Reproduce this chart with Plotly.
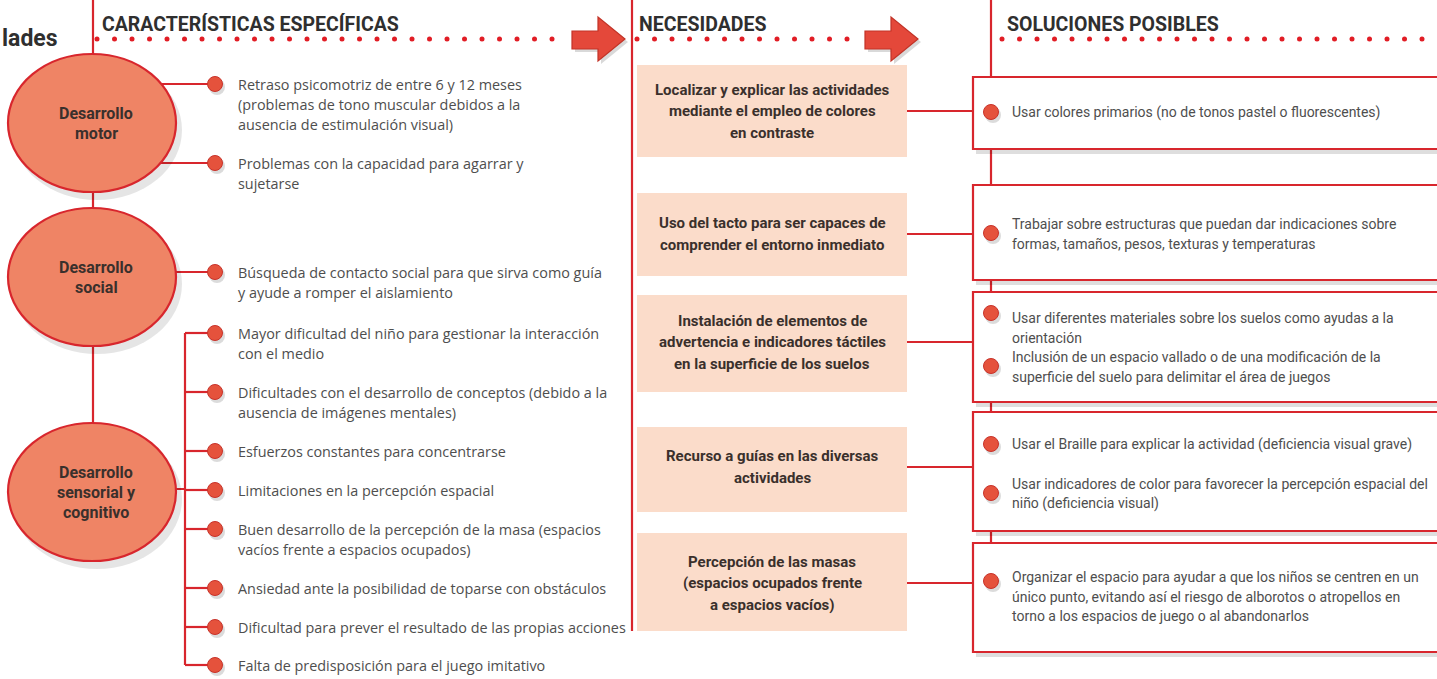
import numpy as np
import plotly.graph_objects as go

W, H = 1437, 679

# ---------------- data (texts) ----------------
header_cut = "lades"
headers = ["CARACTERÍSTICAS ESPECÍFICAS", "NECESIDADES", "SOLUCIONES POSIBLES"]
groups = ["Desarrollo\nmotor", "Desarrollo\nsocial", "Desarrollo\nsensorial y\ncognitivo"]
characteristics = [
    "Retraso psicomotriz de entre 6 y 12 meses\n(problemas de tono muscular debidos a la\nausencia de estimulación visual)",
    "Problemas con la capacidad para agarrar y\nsujetarse",
    "Búsqueda de contacto social para que sirva como guía\ny ayude a romper el aislamiento",
    "Mayor dificultad del niño para gestionar la interacción\ncon el medio",
    "Dificultades con el desarrollo de conceptos (debido a la\nausencia de imágenes mentales)",
    "Esfuerzos constantes para concentrarse",
    "Limitaciones en la percepción espacial",
    "Buen desarrollo de la percepción de la masa (espacios\nvacíos frente a espacios ocupados)",
    "Ansiedad ante la posibilidad de toparse con obstáculos",
    "Dificultad para prever el resultado de las propias acciones",
    "Falta de predisposición para el juego imitativo",
]
char_group = [0, 0, 1, 2, 2, 2, 2, 2, 2, 2, 2]
needs = [
    "Localizar y explicar las actividades\nmediante el empleo de colores\nen contraste",
    "Uso del tacto para ser capaces de\ncomprender el entorno inmediato",
    "Instalación de elementos de\nadvertencia e indicadores táctiles\nen la superficie de los suelos",
    "Recurso a guías en las diversas\nactividades",
    "Percepción de las masas\n(espacios ocupados frente\na espacios vacíos)",
]
solutions = [
    ["Usar colores primarios (no de tonos pastel o fluorescentes)"],
    ["Trabajar sobre estructuras que puedan dar indicaciones sobre\nformas, tamaños, pesos, texturas y temperaturas"],
    ["Usar diferentes materiales sobre los suelos como ayudas a la\norientación",
     "Inclusión de un espacio vallado o de una modificación de la\nsuperficie del suelo para delimitar el área de juegos"],
    ["Usar el Braille para explicar la actividad (deficiencia visual grave)",
     "Usar indicadores de color para favorecer la percepción espacial del\nniño (deficiencia visual)"],
    ["Organizar el espacio para ayudar a que los niños se centren en un\núnico punto, evitando así el riesgo de alborotos o atropellos en\ntorno a los espacios de juego o al abandonarlos"],
]

# ---------------- layout positions ----------------
group_cx, group_rx, group_ry = 92, 84, 69
group_cy = [123, 277, 492]
char_dot_x, char_text_x = 215, 236
char_y = [84, 163, 272, 333, 392, 451, 490, 529, 588, 627, 665]
bracket_x = 185
need_x0, need_x1 = 637, 907
need_box = [(65, 157), (193, 276), (295, 392), (427, 512), (533, 631)]
need_link_y = [111, 234, 342, 467, 583]
sol_x0, sol_x1 = 973, 1450
sol_box = [(77, 149), (185, 280), (292, 402), (412, 531), (543, 652)]
sol_dot_x, sol_text_x = 991, 1010
sol_dot_y = [[112], [233], [313, 366], [444, 493], [581]]
sol_text_y = [[112], [224], [318, 357], [444, 484], [577]]
header_x = [100, 637, 1005]
header_y = 24
dots_y = 39
dot_rows = [(97, 560), (637, 860), (1002, 1437)]
arrows_x = [572, 865]

RED = "#d8262d"
LINE_W = 2.2
SALMON = "#ef8465"
PEACH = "#fbdcca"
DOT = "#e5523c"
GRAY_TXT = "#4e4e4e"
DARK_TXT = "#3a302c"
NARROW = "Roboto, Liberation Sans, sans-serif"
ROUND = "Open Sans, Lato, sans-serif"

shapes = []
annotations = []


def line(x0, y0, x1, y1, color=RED, w=LINE_W):
    shapes.append(dict(type="line", x0=x0, y0=y0, x1=x1, y1=y1, xref="x", yref="y",
                       line=dict(color=color, width=w), layer="below"))


def text(x, y, s, size, color, family, xanchor="left", bold=False):
    if bold:
        s = "<b>" + s + "</b>"
    annotations.append(dict(x=x, y=y, xref="x", yref="y", text=s, showarrow=False,
                            xanchor=xanchor, yanchor="middle",
                            font=dict(size=size, color=color, family=family)))


# ---- column separators ----
line(93, 0, 93, group_cy[2])
line(632, 0, 632, 631)
line(sol_dot_x, 0, sol_dot_x, sol_box[-1][0])

# ---- left: connectors from groups to characteristic dots ----
for gi, cy in enumerate(char_y):
    g = char_group[gi]
    if g == 2:
        line(bracket_x, cy, char_dot_x, cy)
    else:
        line(group_cx, cy, char_dot_x, cy)
line(group_cx, group_cy[2] - 3, bracket_x, group_cy[2] - 3)
sens = [y for y, g in zip(char_y, char_group) if g == 2]
line(bracket_x, min(sens), bracket_x, max(sens))

# ---- group ellipses (shadow + body) ----
for cy in group_cy:
    shapes.append(dict(type="circle", xref="x", yref="y",
                       x0=group_cx - group_rx + 4, x1=group_cx + group_rx + 6,
                       y0=cy - group_ry + 6, y1=cy + group_ry + 8,
                       fillcolor="rgba(0,0,0,0.10)", line=dict(width=0), layer="below"))
    shapes.append(dict(type="circle", xref="x", yref="y",
                       x0=group_cx - group_rx, x1=group_cx + group_rx,
                       y0=cy - group_ry, y1=cy + group_ry,
                       fillcolor=SALMON, line=dict(color=RED, width=2.2), layer="below"))

# ---- needs boxes ----
for (y0, y1), ly in zip(need_box, need_link_y):
    shapes.append(dict(type="rect", xref="x", yref="y", x0=need_x0, x1=need_x1, y0=y0, y1=y1,
                       fillcolor=PEACH, line=dict(width=0), layer="below"))
    line(need_x1, ly, sol_x0, ly)

# ---- solution boxes ----
for (y0, y1) in sol_box:
    shapes.append(dict(type="rect", xref="x", yref="y", x0=sol_x0 + 3, x1=sol_x1, y0=y0 + 4, y1=y1 + 5,
                       fillcolor="rgba(0,0,0,0.13)", line=dict(width=0), layer="below"))
    shapes.append(dict(type="rect", xref="x", yref="y", x0=sol_x0, x1=sol_x1, y0=y0, y1=y1,
                       fillcolor="white", line=dict(color=RED, width=2.2), layer="below"))

# ---- arrows ----
for ax in arrows_x:
    path = (f"M {ax} {dots_y-8} L {ax+26} {dots_y-8} L {ax+26} {dots_y-22} "
            f"L {ax+53} {dots_y} L {ax+26} {dots_y+22} L {ax+26} {dots_y+10} L {ax} {dots_y+10} Z")
    shapes.append(dict(type="path", xref="x", yref="y",
                       path=(f"M {ax+3} {dots_y-5} L {ax+29} {dots_y-5} L {ax+29} {dots_y-19} "
                             f"L {ax+56} {dots_y+3} L {ax+29} {dots_y+25} L {ax+29} {dots_y+13} L {ax+3} {dots_y+13} Z"),
                       fillcolor="rgba(0,0,0,0.15)", line=dict(width=0), layer="below"))
    shapes.append(dict(type="path", xref="x", yref="y", path=path,
                       fillcolor="#e4483a", line=dict(color="#c23327", width=1.2), layer="below"))

fig = go.Figure()

# ---- header dotted rows ----
hx = np.concatenate([np.arange(a, b, 17.5) for a, b in dot_rows])
fig.add_trace(go.Scatter(x=hx, y=[dots_y] * len(hx), mode="markers",
                         marker=dict(size=5, color="#e11d25"), hoverinfo="skip"))

# ---- characteristic dots ----
fig.add_trace(go.Scatter(x=[char_dot_x + 2] * len(char_y), y=[y + 3 for y in char_y], mode="markers",
                         marker=dict(size=16, color="rgba(0,0,0,0.14)"), hoverinfo="skip"))
fig.add_trace(go.Scatter(x=[char_dot_x] * len(char_y), y=char_y, mode="markers",
                         marker=dict(size=15, color=DOT, line=dict(color="#c8322a", width=1)),
                         hoverinfo="skip"))

# ---- solution dots ----
sx, sy = [], []
for ys in sol_dot_y:
    for y in ys:
        sx.append(sol_dot_x)
        sy.append(y)
fig.add_trace(go.Scatter(x=[v + 2 for v in sx], y=[v + 3 for v in sy], mode="markers",
                         marker=dict(size=16, color="rgba(0,0,0,0.14)"), hoverinfo="skip"))
fig.add_trace(go.Scatter(x=sx, y=sy, mode="markers",
                         marker=dict(size=15, color=DOT, line=dict(color="#c8322a", width=1)),
                         hoverinfo="skip"))

# ---- texts ----
text(0, 38, header_cut, 23, "#2f2f2f", "Roboto, Open Sans, sans-serif", bold=True)
for hxp, h in zip(header_x, headers):
    text(hxp, header_y, h, 19.5, "#2f2f2f", NARROW, bold=True)

for g, cy in zip(groups, group_cy):
    lines = g.split("\n")
    n = len(lines)
    for i, ln in enumerate(lines):
        text(group_cx + 4, cy + (i - (n - 1) / 2) * 20, ln, 16, DARK_TXT, NARROW, xanchor="center", bold=True)

for s, cy in zip(characteristics, char_y):
    for i, ln in enumerate(s.split("\n")):
        text(char_text_x, cy + i * 20, ln, 14.4, GRAY_TXT, ROUND)

for s, cy in zip(needs, need_link_y):
    lines = s.split("\n")
    n = len(lines)
    for i, ln in enumerate(lines):
        text((need_x0 + need_x1) / 2, cy + (i - (n - 1) / 2) * 21.5, ln, 15, DARK_TXT, NARROW,
             xanchor="center", bold=True)

for items, ys in zip(solutions, sol_text_y):
    for s, y0 in zip(items, ys):
        for i, ln in enumerate(s.split("\n")):
            text(sol_text_x, y0 + i * 19.5, ln, 14, GRAY_TXT, NARROW)

fig.update_layout(
    width=W, height=H, margin=dict(l=0, r=0, t=0, b=0),
    paper_bgcolor="white", plot_bgcolor="white", showlegend=False,
    xaxis=dict(range=[0, W], visible=False, fixedrange=True),
    yaxis=dict(range=[H, 0], visible=False, fixedrange=True),
    shapes=shapes, annotations=annotations,
)

fig.write_html("out.html", config={"displayModeBar": False},
               post_script="document.body.style.margin='0';document.body.style.overflow='hidden';")
